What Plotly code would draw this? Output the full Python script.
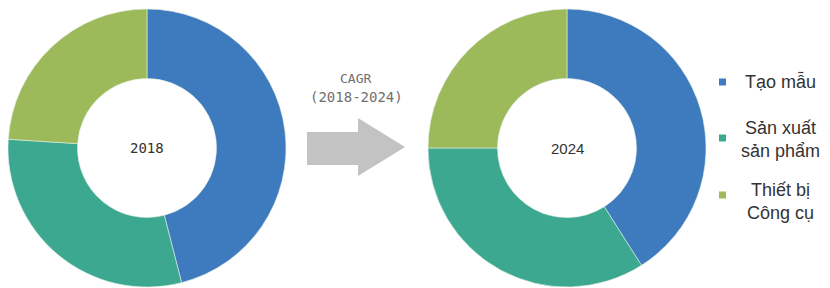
import plotly.graph_objects as go

# The page body has an 8px margin, so the figure is drawn 8px in from the top-left.
OFF = 8
W, H = 830 - OFF, 288 - OFF

categories = ["Tạo mẫu", "Sản xuất sản phẩm", "Thiết bị Công cụ"]
legend_labels = ["Tạo mẫu", "Sản xuất<br>sản phẩm", "Thiết bị<br>Công cụ"]
years = ["2018", "2024"]
share_2018 = [46, 30, 24]
share_2024 = [41, 34, 25]
colors = ["#3D7BBE", "#3BA88F", "#9CBA59"]
cagr_title = "CAGR"
cagr_period = "(2018-2024)"


def px_x(x):
    return (x - OFF) / W


def px_y(y):
    return 1 - (y - OFF) / H


fig = go.Figure()

centers = [(147, 148), (567, 148)]
R = 139
year_fonts = ["DejaVu Sans Mono", "Liberation Sans"]
year_sizes = [14, 15]
for (cx, cy), year, vals, yf, ys in zip(centers, years, [share_2018, share_2024], year_fonts, year_sizes):
    fig.add_trace(go.Pie(
        labels=categories,
        values=vals,
        hole=0.5,
        sort=False,
        direction="clockwise",
        rotation=0,
        marker=dict(colors=colors, line=dict(color="#E4EEE8", width=0.6)),
        textinfo="none",
        hoverinfo="label+percent",
        showlegend=False,
        domain=dict(x=[px_x(cx - R), px_x(cx + R)], y=[px_y(cy + R), px_y(cy - R)]),
    ))
    fig.add_annotation(
        x=px_x(cx), y=px_y(cy), xref="paper", yref="paper",
        xanchor="center", yanchor="middle",
        text=year, showarrow=False,
        font=dict(family=yf, size=ys, color="#333333"),
    )

# arrow
pts = [(307, 132), (358, 132), (358, 118), (405, 147), (358, 176), (358, 165), (307, 165)]
path = "M " + " L ".join(f"{px_x(x):.5f},{px_y(y):.5f}" for x, y in pts) + " Z"
fig.add_shape(type="path", path=path, xref="paper", yref="paper",
              fillcolor="#C3C3C3", line=dict(width=0))

fig.add_annotation(x=px_x(355), y=px_y(78), xref="paper", yref="paper",
                   xanchor="center", yanchor="middle",
                   text=cagr_title, showarrow=False,
                   font=dict(family="DejaVu Sans Mono", size=13, color="#707070"))
fig.add_annotation(x=px_x(356), y=px_y(97), xref="paper", yref="paper",
                   xanchor="center", yanchor="middle",
                   text=cagr_period, showarrow=False,
                   font=dict(family="DejaVu Sans Mono", size=14, color="#707070"))

# legend
marker_y = [82, 138, 195]
text_y = [82, 139, 201]
for lab, col, my, ty in zip(legend_labels, colors, marker_y, text_y):
    fig.add_shape(type="rect", xref="paper", yref="paper",
                  x0=px_x(719), x1=px_x(726), y0=px_y(my + 3.5), y1=px_y(my - 3.5),
                  fillcolor=col, line=dict(width=0))
    fig.add_annotation(x=px_x(780), y=px_y(ty), xref="paper", yref="paper",
                       xanchor="center", yanchor="middle",
                       text=lab, showarrow=False, align="center",
                       font=dict(family="Liberation Sans", size=18, color="#333333"))

fig.update_layout(
    width=W, height=H,
    margin=dict(l=0, r=0, t=0, b=0),
    paper_bgcolor="white", plot_bgcolor="white",
)

fig.write_html("out.html")
